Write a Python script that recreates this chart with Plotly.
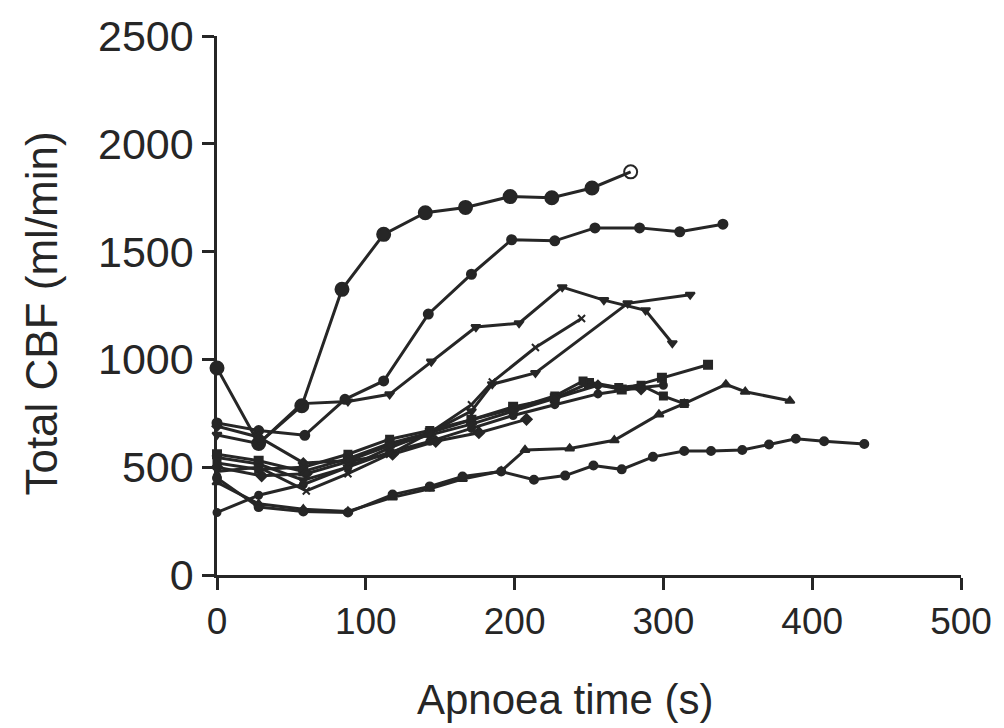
import plotly.graph_objects as go

# ---- data ----
s1_x = [0, 28, 57, 84, 112, 140, 167, 197, 225, 252, 278]
s1_y = [960, 610, 785, 1325, 1580, 1680, 1705, 1755, 1750, 1795, 1870]
s2_x = [0, 28, 59, 86, 112, 142, 171, 198, 227, 254, 284, 311, 340]
s2_y = [705, 670, 648, 815, 900, 1210, 1395, 1555, 1550, 1610, 1610, 1592, 1627]
s3_x = [0, 28, 57, 88, 116, 144, 174, 203, 232, 260, 288, 306]
s3_y = [650, 610, 795, 805, 838, 990, 1150, 1168, 1335, 1275, 1228, 1075]
s4_x = [0, 28, 60, 88, 116, 143, 171, 185, 214, 245]
s4_y = [480, 500, 390, 470, 560, 660, 790, 895, 1055, 1190]
s5_x = [0, 28, 58, 88, 116, 143, 171, 185, 214, 276, 318]
s5_y = [545, 515, 440, 500, 590, 660, 760, 885, 937, 1260, 1300]
s6_x = [0, 28, 58, 88, 116, 143, 171, 199, 227, 250, 272, 299, 330]
s6_y = [560, 530, 480, 540, 610, 660, 720, 780, 820, 890, 860, 915, 975]
s7_x = [0, 28, 58, 88, 118, 143, 165, 191, 207, 237, 267, 297, 314, 342, 355, 385]
s7_y = [430, 330, 305, 295, 360, 400, 445, 482, 580, 587, 625, 745, 795, 884, 850, 808]
s8_x = [0, 28, 58, 88, 116, 143, 171, 199, 227, 246, 270, 285, 300, 314]
s8_y = [520, 490, 500, 560, 630, 670, 720, 770, 830, 900, 870, 880, 830, 795]
s9_x = [0, 30, 60, 90, 118, 147, 176, 208]
s9_y = [500, 460, 470, 530, 560, 620, 660, 722]
s10_x = [0, 28, 58, 88, 116, 143, 171, 199, 227, 256, 285, 300]
s10_y = [290, 370, 420, 500, 570, 620, 680, 740, 790, 840, 870, 880]
s11_x = [0, 28, 58, 88, 116, 143, 171, 199, 227, 256, 285]
s11_y = [690, 640, 520, 530, 600, 650, 700, 760, 820, 880, 860]
s12_x = [0, 28, 58, 88, 118, 143, 165, 191, 213, 234, 253, 272, 293, 314, 332, 353, 371, 389, 408, 435]
s12_y = [450, 315, 295, 290, 373, 411, 457, 480, 442, 461, 508, 490, 548, 575, 575, 580, 605, 632, 620, 608]

x_ticks = [0, 100, 200, 300, 400, 500]
y_ticks = [0, 500, 1000, 1500, 2000, 2500]
x_title = "Apnoea time (s)"
y_title = "Total CBF (ml/min)"

series = [
    (s1_x, s1_y, "circle", 13),
    (s2_x, s2_y, "circle", 9),
    (s3_x, s3_y, "triangle-down", 8),
    (s4_x, s4_y, "x-thin", 7),
    (s5_x, s5_y, "triangle-down", 8),
    (s6_x, s6_y, "square", 8),
    (s7_x, s7_y, "triangle-up", 8),
    (s8_x, s8_y, "square", 7),
    (s9_x, s9_y, "diamond", 8),
    (s10_x, s10_y, "circle", 7),
    (s11_x, s11_y, "diamond", 7),
    (s12_x, s12_y, "circle", 8),
]

INK = "#262626"
FONT = "Liberation Sans, Arial, sans-serif"
fig = go.Figure()
for i, (xs, ys, sym, sz) in enumerate(series):
    symbols = [sym] * len(xs)
    if i == 0:
        symbols[-1] = "circle-open"
    fig.add_trace(go.Scatter(
        x=xs, y=ys, mode="lines+markers",
        line=dict(color=INK, width=3),
        marker=dict(symbol=symbols, size=sz, color=INK,
                    line=dict(color=INK, width=2)),
        cliponaxis=False, showlegend=False, hoverinfo="skip",
    ))

axis_common = dict(
    showgrid=False, zeroline=False, showline=True, linecolor=INK, linewidth=2.5,
    ticks="outside", ticklen=12, tickwidth=2.5, tickcolor=INK,
)
fig.update_layout(
    width=1004, height=728,
    margin=dict(l=217, r=41, t=28, b=153),
    paper_bgcolor="white", plot_bgcolor="white",
    xaxis=dict(range=[0, 500], tickvals=x_ticks,
               tickfont=dict(family=FONT, size=37, color=INK),
               **axis_common),
    yaxis=dict(range=[0, 2500], tickvals=y_ticks,
               tickfont=dict(family=FONT, size=43, color=INK),
               **axis_common),
    annotations=[
        dict(text=x_title, xref="paper", yref="paper", x=0.468, y=0,
             yanchor="middle", yshift=-124, showarrow=False,
             font=dict(family=FONT, size=42, color=INK)),
        dict(text=y_title, xref="paper", yref="paper", x=0, y=0.485,
             xanchor="center", xshift=-175, textangle=-90, showarrow=False,
             font=dict(family=FONT, size=44, color=INK)),
    ],
)
fig.write_html("out.html")
